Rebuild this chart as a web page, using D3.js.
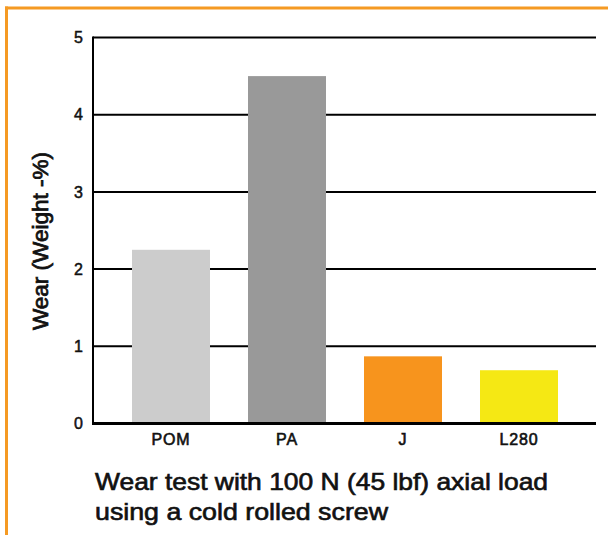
<!DOCTYPE html>
<html>
<head>
<meta charset="utf-8">
<script src="https://cdn.jsdelivr.net/npm/d3@7"></script>
<style>
  html, body { margin: 0; padding: 0; background: #fff; }
  svg { display: block; }
  text { font-family: "Liberation Sans", Arial, Helvetica, sans-serif; fill: #111; }
</style>
</head>
<body>
<svg id="chart" width="608" height="535"></svg>
<script>
const categories = ["POM", "PA", "J", "L280"];
const values = [2.25, 4.5, 0.87, 0.69];
const barColors = ["#cccccc", "#999999", "#f7941d", "#f5e814"];
const yTicks = [0, 1, 2, 3, 4, 5];
const yTitle = "Wear (Weight -%)";
const captionLines = ["Wear test with 100 N (45 lbf) axial load", "using a cold rolled screw"];

const svg = d3.select("#chart");
const plotLeft = 93, plotRight = 596, plotTop = 37.5, plotBottom = 423.5;
const medium = (sel, w = 0.55) => sel.attr("stroke", "#111").attr("stroke-width", w).attr("paint-order", "stroke");

// orange frame
svg.append("line").attr("x1", 6.5).attr("x2", 6.5).attr("y1", 6.5).attr("y2", 535)
  .attr("stroke", "#f59a23").attr("stroke-width", 3);
svg.append("line").attr("x1", 5).attr("x2", 608).attr("y1", 8).attr("y2", 8)
  .attr("stroke", "#f59a23").attr("stroke-width", 3);

const y = d3.scaleLinear().domain([0, 5]).range([plotBottom, plotTop]);
const x = d3.scaleBand().domain(categories).range([113, 577])
  .paddingInner(0.3276).paddingOuter(0.1638);

// grid lines
svg.append("g").selectAll("line").data(yTicks.filter(d => d > 0)).join("line")
  .attr("x1", plotLeft).attr("x2", plotRight)
  .attr("y1", d => y(d)).attr("y2", d => y(d))
  .attr("stroke", "#000").attr("stroke-width", 2);

// bars
svg.append("g").selectAll("rect").data(categories).join("rect")
  .attr("x", d => x(d))
  .attr("width", x.bandwidth())
  .attr("y", (d, i) => y(values[i]))
  .attr("height", (d, i) => y(0) - y(values[i]))
  .attr("fill", (d, i) => barColors[i]);

// y axis
const yAxis = d3.axisLeft(y).tickValues(yTicks).tickSize(0).tickPadding(10).tickFormat(d3.format("d"));
const gy = svg.append("g").attr("transform", `translate(${plotLeft},0)`).call(yAxis);
gy.select(".domain").remove();
gy.selectAll("text").attr("font-size", 16).attr("font-family", "Liberation Sans, Arial, sans-serif").attr("fill", "#111").call(medium, 0.5);
svg.append("line").attr("x1", plotLeft).attr("x2", plotLeft).attr("y1", plotTop - 1).attr("y2", plotBottom + 1.5)
  .attr("stroke", "#000").attr("stroke-width", 2);

// x axis
const xAxis = d3.axisBottom(x).tickSize(0).tickPadding(10);
const gx = svg.append("g").attr("transform", `translate(0,${plotBottom})`).call(xAxis);
gx.select(".domain").remove();
gx.selectAll("text").attr("font-size", 16).attr("letter-spacing", 0.9)
  .attr("font-family", "Liberation Sans, Arial, sans-serif").attr("fill", "#111").call(medium, 0.6);
svg.append("line").attr("x1", plotLeft - 1).attr("x2", plotRight).attr("y1", plotBottom).attr("y2", plotBottom)
  .attr("stroke", "#000").attr("stroke-width", 3);

// y title
svg.append("text")
  .attr("transform", `translate(48,241) rotate(-90)`)
  .attr("text-anchor", "middle")
  .attr("font-size", 21.5)
  .attr("textLength", 178).attr("lengthAdjust", "spacingAndGlyphs")
  .call(medium, 0.75)
  .text(yTitle);

// caption
const capLen = [453, 293];
svg.append("g").selectAll("text").data(captionLines).join("text")
  .attr("x", 95).attr("y", (d, i) => 490 + i * 29.5)
  .attr("font-size", 24)
  .attr("textLength", (d, i) => capLen[i]).attr("lengthAdjust", "spacingAndGlyphs")
  .call(medium, 0.65)
  .text(d => d);
</script>
</body>
</html>
